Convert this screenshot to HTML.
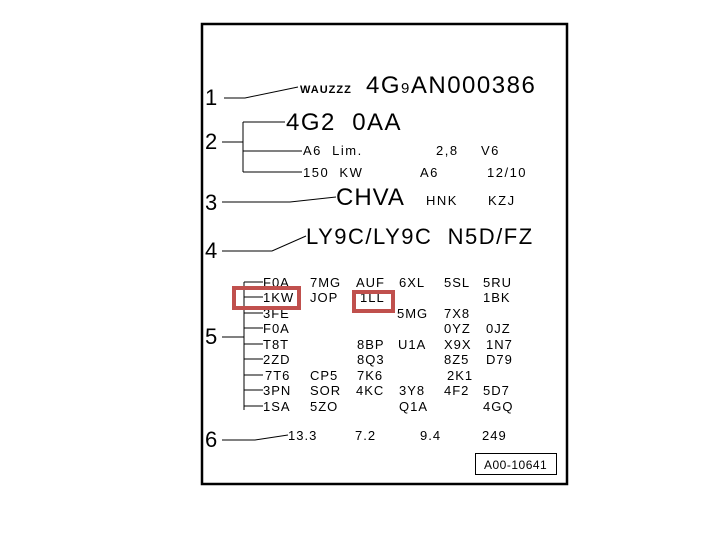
<!DOCTYPE html>
<html><head><meta charset="utf-8"><style>
html,body{margin:0;padding:0;background:#fff;}
svg{display:block;}
text{font-family:"Liberation Sans",sans-serif;fill:#000;white-space:pre;}
</style></head><body>
<svg width="708" height="537" viewBox="0 0 708 537">
<rect x="202" y="24" width="365" height="460" fill="none" stroke="#000" stroke-width="2.5"/>
<g stroke="#000" stroke-width="1" fill="none">
<polyline points="224,98 245,98 298,87"/>
<polyline points="222,142 243,142"/>
<line x1="243" y1="122" x2="243" y2="172"/>
<line x1="243" y1="122" x2="285" y2="122"/>
<line x1="243" y1="151" x2="302" y2="151"/>
<line x1="243" y1="172" x2="302" y2="172"/>
<polyline points="222,202 290,202 336,197"/>
<polyline points="222,251 272,251 306,236"/>
<line x1="222" y1="337" x2="244" y2="337"/>
<line x1="244" y1="282" x2="244" y2="410"/>
<line x1="244" y1="282" x2="263" y2="282"/>
<line x1="244" y1="297" x2="263" y2="297"/>
<line x1="244" y1="313" x2="263" y2="313"/>
<line x1="244" y1="328" x2="263" y2="328"/>
<line x1="244" y1="344" x2="263" y2="344"/>
<line x1="244" y1="359" x2="263" y2="359"/>
<line x1="244" y1="375" x2="263" y2="375"/>
<line x1="244" y1="390" x2="263" y2="390"/>
<line x1="244" y1="406" x2="263" y2="406"/>
<polyline points="222,440 255,440 288,435"/>
</g>
<g font-size="22"><text x="205" y="105">1</text><text x="205" y="149">2</text><text x="205" y="210">3</text><text x="205" y="258">4</text><text x="205" y="344">5</text><text x="205" y="447">6</text></g>
<text x="300" y="93" font-size="11" font-weight="bold" letter-spacing="1">WAUZZZ</text>
<text x="366" y="93" font-size="24" letter-spacing="1.5">4G<tspan font-size="15">9</tspan>AN000386</text>
<text x="286" y="130" font-size="24" letter-spacing="1.5">4G2  0AA</text>
<g font-size="13" letter-spacing="1.5">
<text x="303" y="155">A6  Lim.</text><text x="436" y="155">2,8</text><text x="481" y="155">V6</text>
<text x="303" y="177">150  KW</text><text x="420" y="177">A6</text><text x="487" y="177">12/10</text>
<text x="426" y="205">HNK</text><text x="488" y="205">KZJ</text>
</g>
<text x="336" y="205" font-size="24" letter-spacing="1">CHVA</text>
<text x="306" y="244" font-size="22" letter-spacing="1.5">LY9C/LY9C  N5D/FZ</text>
<g font-size="13" letter-spacing="1">
<text x="263" y="287">F0A</text><text x="310" y="287">7MG</text><text x="356" y="287">AUF</text><text x="399" y="287">6XL</text><text x="444" y="287">5SL</text><text x="483" y="287">5RU</text>
<text x="263" y="302">1KW</text><text x="310" y="302">JOP</text><text x="360" y="302">1LL</text><text x="483" y="302">1BK</text>
<text x="263" y="318">3FE</text><text x="397" y="318">5MG</text><text x="444" y="318">7X8</text>
<text x="263" y="333">F0A</text><text x="444" y="333">0YZ</text><text x="486" y="333">0JZ</text>
<text x="263" y="349">T8T</text><text x="357" y="349">8BP</text><text x="398" y="349">U1A</text><text x="444" y="349">X9X</text><text x="486" y="349">1N7</text>
<text x="263" y="364">2ZD</text><text x="357" y="364">8Q3</text><text x="444" y="364">8Z5</text><text x="486" y="364">D79</text>
<text x="265" y="380">7T6</text><text x="310" y="380">CP5</text><text x="357" y="380">7K6</text><text x="447" y="380">2K1</text>
<text x="263" y="395">3PN</text><text x="310" y="395">SOR</text><text x="356" y="395">4KC</text><text x="399" y="395">3Y8</text><text x="444" y="395">4F2</text><text x="483" y="395">5D7</text>
<text x="263" y="411">1SA</text><text x="310" y="411">5ZO</text><text x="399" y="411">Q1A</text><text x="483" y="411">4GQ</text>
<text x="288" y="440">13.3</text><text x="355" y="440">7.2</text><text x="420" y="440">9.4</text><text x="482" y="440">249</text>
</g>
<rect x="475.5" y="453.5" width="81" height="21" fill="none" stroke="#000" stroke-width="1"/>
<text x="484" y="469" font-size="12" letter-spacing="0.5">A00-10641</text>
<rect x="234" y="288" width="65" height="20" fill="none" stroke="#c0504d" stroke-width="4"/>
<rect x="354" y="292" width="39" height="19" fill="none" stroke="#c0504d" stroke-width="4"/>
</svg>
</body></html>
